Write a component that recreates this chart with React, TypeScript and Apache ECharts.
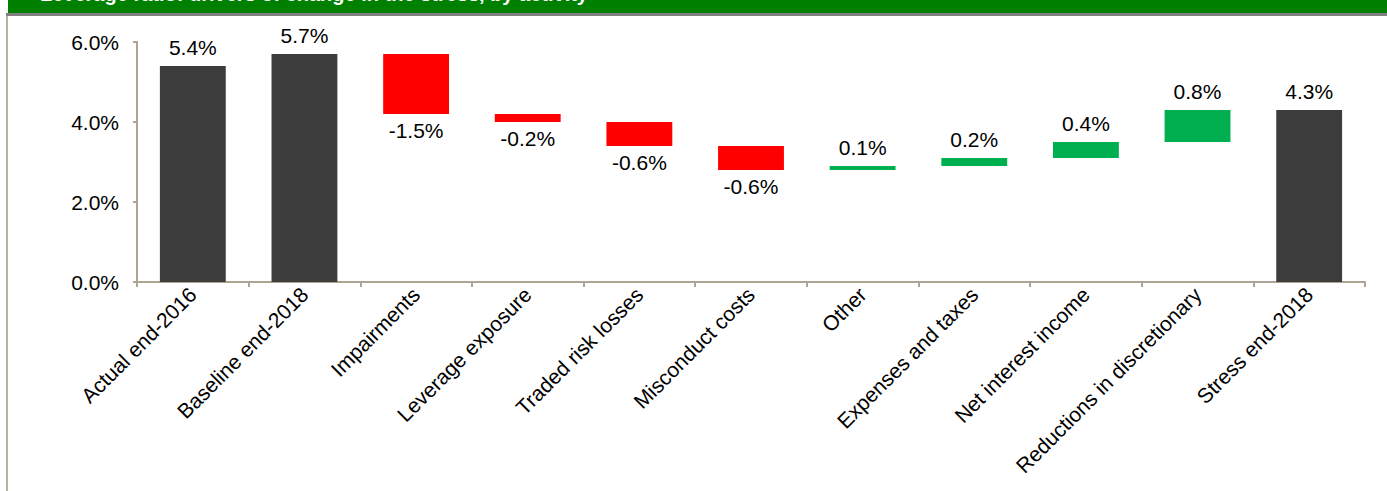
import React, { useEffect, useRef } from "react";
import * as echarts from "echarts";

const categories = [
  "Actual end-2016",
  "Baseline end-2018",
  "Impairments",
  "Leverage exposure",
  "Traded risk losses",
  "Misconduct costs",
  "Other",
  "Expenses and taxes",
  "Net interest income",
  "Reductions in discretionary",
  "Stress end-2018",
];
// value of each step; totals are levels, others are changes
const stepValues = [5.4, 5.7, -1.5, -0.2, -0.6, -0.6, 0.1, 0.2, 0.4, 0.8, 4.3];
const isTotal = [true, true, false, false, false, false, false, false, false, false, true];
const yTicks = [0, 2, 4, 6];
const bannerTitle = "Leverage ratio: drivers of change in the stress, by activity";

const COLOR_TOTAL = "#3c3c3c";
const COLOR_DOWN = "#ff0000";
const COLOR_UP = "#00b050";
const AXIS_COLOR = "#aea493";
const FONT = "Liberation Sans, Arial, sans-serif";
const FS = 21;

export default function App() {
  const ref = useRef<HTMLDivElement>(null);

  useEffect(() => {
    if (!ref.current) return;
    const chart = echarts.init(ref.current, undefined, { renderer: "svg" });

    const base: number[] = [];
    const visible: any[] = [];
    let running = 0;
    stepValues.forEach((v, i) => {
      if (isTotal[i]) {
        base.push(0);
        running = v;
        visible.push({
          value: v,
          itemStyle: { color: COLOR_TOTAL },
          label: { position: "top", distance: 8 },
        });
      } else {
        const next = running + v;
        base.push(Math.min(running, next));
        visible.push({
          value: Math.abs(v),
          itemStyle: { color: v < 0 ? COLOR_DOWN : COLOR_UP },
          label: { position: v < 0 ? "bottom" : "top", distance: v < 0 ? 6 : 8 },
        });
        running = next;
      }
    });

    chart.setOption({
      animation: false,
      textStyle: { fontFamily: FONT },
      grid: { left: 137, right: 22, top: 42, bottom: 209, containLabel: false },
      graphic: [
        { type: "rect", shape: { x: 8, y: 0, width: 1379, height: 13 }, style: { fill: "#008000" } },
        { type: "rect", shape: { x: 6, y: 13, width: 1381, height: 3 }, style: { fill: "#808080" } },
        { type: "rect", shape: { x: 6, y: 16, width: 2, height: 475 }, style: { fill: "#bab2a5" } },
        {
          type: "text",
          x: 40,
          y: -16,
          style: {
            text: bannerTitle,
            fill: "#ffffff",
            font: "bold 20px " + FONT,
          },
        },
      ],
      xAxis: {
        type: "category",
        data: categories,
        axisLine: { lineStyle: { color: AXIS_COLOR, width: 2 } },
        axisTick: { show: true, length: 5, lineStyle: { color: AXIS_COLOR, width: 2 } },
        axisLabel: {
          rotate: 45,
          interval: 0,
          margin: 9,
          fontSize: FS,
          color: "#000000",
          fontFamily: FONT,
        },
      },
      yAxis: {
        type: "value",
        min: yTicks[0],
        max: yTicks[yTicks.length - 1],
        interval: 2,
        splitLine: { show: false },
        axisLine: { show: true, lineStyle: { color: AXIS_COLOR, width: 2 } },
        axisTick: { show: true, length: 4, lineStyle: { color: AXIS_COLOR, width: 2 } },
        axisLabel: {
          margin: 18,
          fontSize: FS,
          color: "#000000",
          fontFamily: FONT,
          formatter: (v: number) => v.toFixed(1) + "%",
        },
      },
      series: [
        {
          type: "bar",
          stack: "wf",
          data: base,
          barWidth: "59%",
          itemStyle: { color: "transparent" },
          emphasis: { disabled: true },
          silent: true,
        },
        {
          type: "bar",
          stack: "wf",
          data: visible,
          barWidth: "59%",
          label: {
            show: true,
            fontSize: FS,
            color: "#000000",
            fontFamily: FONT,
            formatter: (p: any) => stepValues[p.dataIndex].toFixed(1) + "%",
          },
        },
      ],
    });

    return () => chart.dispose();
  }, []);

  return (
    <div
      ref={ref}
      style={{ position: "fixed", left: 0, top: 0, width: 1387, height: 491, background: "#ffffff" }}
    />
  );
}
